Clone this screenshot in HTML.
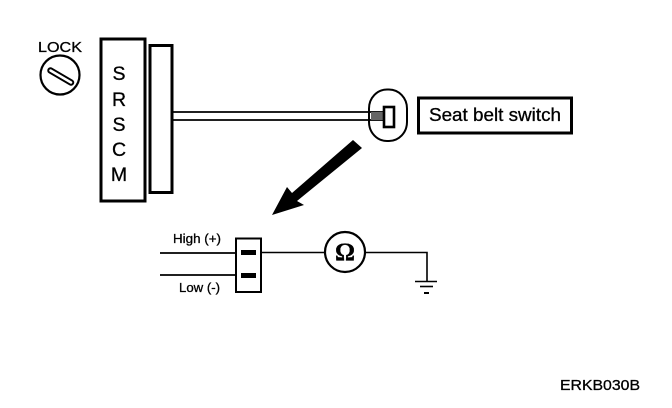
<!DOCTYPE html>
<html>
<head>
<meta charset="utf-8">
<style>
html,body{margin:0;padding:0;background:#fff;width:672px;height:408px;overflow:hidden}
svg{display:block}
text{font-family:"Liberation Sans",sans-serif;fill:#000;stroke:#000;stroke-width:.3}
</style>
</head>
<body>
<svg width="672" height="408" viewBox="0 0 672 408" xmlns="http://www.w3.org/2000/svg">
<rect width="672" height="408" fill="#fff"/>
<!-- lock -->
<text x="38" y="52" font-size="15" textLength="44" lengthAdjust="spacingAndGlyphs">LOCK</text>
<circle cx="60" cy="75" r="19.5" fill="#fff" stroke="#000" stroke-width="2.2"/>
<line x1="50.5" y1="70.5" x2="71" y2="82.5" stroke="#000" stroke-width="6.5" stroke-linecap="round"/>
<line x1="50.5" y1="70.5" x2="71" y2="82.5" stroke="#fff" stroke-width="2.5" stroke-linecap="round"/>
<!-- SRSCM -->
<rect x="101" y="39" width="44" height="162" fill="#fff" stroke="#000" stroke-width="3"/>
<g font-size="19.5" text-anchor="middle">
<text x="119" y="80">S</text>
<text x="119" y="106">R</text>
<text x="119" y="131">S</text>
<text x="119" y="156">C</text>
<text x="119" y="181">M</text>
</g>
<rect x="150" y="45.5" width="22" height="147" fill="#fff" stroke="#000" stroke-width="3"/>
<!-- harness -->
<line x1="173" y1="112" x2="372" y2="112" stroke="#000" stroke-width="1.8"/>
<line x1="173" y1="120" x2="372" y2="120" stroke="#000" stroke-width="1.8"/>
<!-- switch -->
<rect x="369" y="89.5" width="38" height="51.5" rx="18" ry="19" fill="#fff" stroke="#000" stroke-width="2"/>
<line x1="369" y1="112" x2="384" y2="112" stroke="#000" stroke-width="1.8"/>
<line x1="369" y1="120" x2="384" y2="120" stroke="#000" stroke-width="1.8"/>
<rect x="371" y="112" width="12" height="8" fill="#666"/>
<rect x="384" y="107" width="10" height="20" fill="#fff" stroke="#000" stroke-width="2.6"/>
<rect x="418.5" y="98" width="153" height="35" fill="#fff" stroke="#000" stroke-width="3"/>
<text x="429" y="121" font-size="18" textLength="132" lengthAdjust="spacingAndGlyphs">Seat belt switch</text>
<!-- arrow -->
<polygon points="353,140 362,148 297,201 304,205 272,215 287,187 292,193" fill="#000"/>
<!-- connector -->
<line x1="160" y1="253" x2="237" y2="253" stroke="#000" stroke-width="1.8"/>
<line x1="160" y1="275" x2="237" y2="275" stroke="#000" stroke-width="1.8"/>
<rect x="236" y="238.5" width="25" height="53.5" fill="#fff" stroke="#000" stroke-width="2"/>
<rect x="241" y="250" width="15" height="5" fill="#000"/>
<rect x="241" y="273" width="15" height="5" fill="#000"/>
<text x="173" y="243" font-size="13" textLength="48" lengthAdjust="spacingAndGlyphs">High (+)</text>
<text x="179" y="292" font-size="13" textLength="41" lengthAdjust="spacingAndGlyphs">Low (-)</text>
<!-- meter -->
<line x1="261" y1="252.5" x2="325" y2="252.5" stroke="#000" stroke-width="1.6"/>
<circle cx="345" cy="252" r="20" fill="#fff" stroke="#000" stroke-width="2.2"/>
<text x="345" y="260" font-size="25" font-weight="bold" text-anchor="middle" style="font-family:'Liberation Serif',serif">Ω</text>
<polyline points="365,252.5 427,252.5 427,281" fill="none" stroke="#000" stroke-width="1.6"/>
<line x1="415" y1="281.5" x2="437" y2="281.5" stroke="#000" stroke-width="1.6"/>
<line x1="420" y1="286.5" x2="433" y2="286.5" stroke="#000" stroke-width="1.6"/>
<line x1="424" y1="293" x2="429" y2="293" stroke="#000" stroke-width="2"/>
<!-- code -->
<text x="560" y="390" font-size="15" textLength="80" lengthAdjust="spacingAndGlyphs">ERKB030B</text>
</svg>
</body>
</html>
